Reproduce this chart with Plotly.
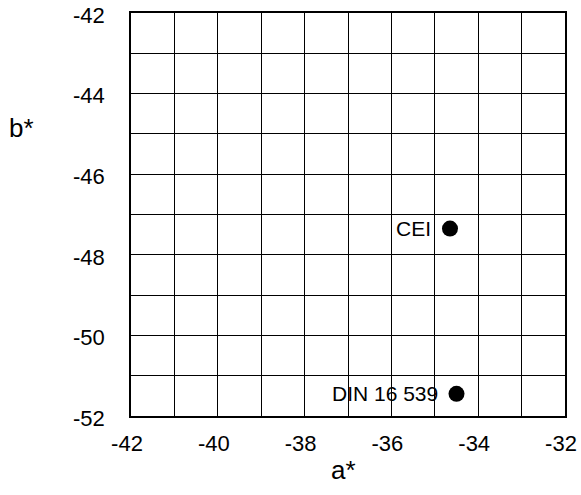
import plotly.graph_objects as go

# Data
names = ["CEI", "DIN 16 539"]
a_vals = [-34.65, -34.5]
b_vals = [-47.35, -51.45]

x_tickvals = [-42, -40, -38, -36, -34, -32]
x_ticktext = ["-42", "-40", "-38", "-36", "-34", "-32"]
y_tickvals = [-42, -44, -46, -48, -50, -52]
y_ticktext = ["-42", "-44", "-46", "-48", "-50", "-52"]

FONT = "Liberation Sans, Arial, Helvetica, sans-serif"

fig = go.Figure()
fig.add_trace(go.Scatter(
    x=a_vals, y=b_vals, mode="markers",
    marker=dict(size=16, color="black"),
    showlegend=False, hoverinfo="skip",
))

for n, xa, yb in zip(names, a_vals, b_vals):
    fig.add_annotation(x=xa, y=yb, xref="x", yref="y", text=n, showarrow=False,
                       xanchor="right", yanchor="middle", xshift=-17,
                       font=dict(family=FONT, size=21, color="black"))

axis_common = dict(
    showline=True, linecolor="black", linewidth=1.5, mirror=True,
    showgrid=True, gridcolor="black", gridwidth=1.3,
    zeroline=False, ticks="", automargin=False, ticklabeloverflow="allow",
    tickfont=dict(family=FONT, size=22, color="black"),
    minor=dict(dtick=1, showgrid=True, gridcolor="black", gridwidth=1.3),
)

fig.update_xaxes(range=[-42, -32], tickmode="array", tickvals=x_tickvals,
                 ticktext=x_ticktext, ticklabelstandoff=7, ticklabelshift=-4,
                 **axis_common)
fig.update_yaxes(range=[-52, -42], tickmode="array", tickvals=y_tickvals,
                 ticktext=y_ticktext, ticklabelstandoff=20, ticklabelshift=2,
                 **axis_common)

fig.add_annotation(x=0.49, y=-0.135, xref="paper", yref="paper", text="a*",
                   showarrow=False, xanchor="center", yanchor="middle",
                   font=dict(family=FONT, size=26, color="black"))
fig.add_annotation(x=-0.253, y=0.715, xref="paper", yref="paper", text="b*",
                   showarrow=False, xanchor="center", yanchor="middle",
                   font=dict(family=FONT, size=26, color="black"))

fig.update_layout(
    width=581, height=495,
    margin=dict(l=131, r=16, t=13, b=79),
    paper_bgcolor="white", plot_bgcolor="white",
    showlegend=False,
)

# remove the default 8px page margin so the figure fills the window exactly
fig.write_html("out.html",
               config={"displayModeBar": False},
               post_script="document.body.style.margin='0';"
                           "document.body.style.overflow='hidden';")
